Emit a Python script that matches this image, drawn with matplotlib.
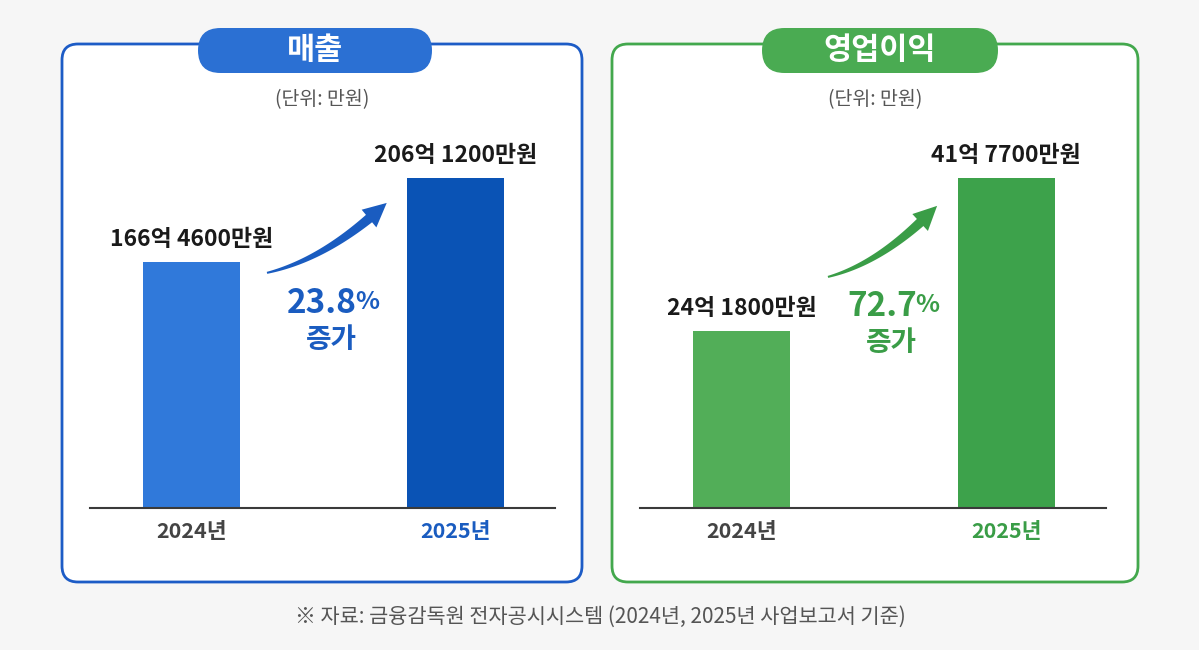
import matplotlib
matplotlib.use("Agg")
import matplotlib.pyplot as plt
import numpy as np
from matplotlib.patches import FancyBboxPatch, Polygon

plt.rcParams['font.family'] = ['Noto Sans CJK KR', 'DejaVu Sans']

# data (억원)
years = ['2024년', '2025년']
sales = [166.46, 206.12]
profit = [24.18, 41.77]
sales_labels = ['166억 4600만원', '206억 1200만원']
profit_labels = ['24억 1800만원', '41억 7700만원']
sales_growth = '23.8'
profit_growth = '72.7'
titles = ['매출', '영업이익']
unit_text = '(단위: 만원)'
source_text = '※ 자료: 금융감독원 전자공시시스템 (2024년, 2025년 사업보고서 기준)'

W, H = 1199, 650
fig = plt.figure(figsize=(W / 100, H / 100), dpi=100)
fig.patch.set_facecolor('#f6f6f6')

def inch(x, y):
    # pixel (from top-left) -> inches for dpi_scale_trans
    return x / 100, (H - y) / 100

def panel(x0, x1, y0, y1, edge, pill, title, pill_x0, pill_x1):
    bx, by = inch(x0, y1)
    box = FancyBboxPatch((bx, by), (x1 - x0) / 100, (y1 - y0) / 100,
                         boxstyle='round,pad=0,rounding_size=0.16',
                         transform=fig.dpi_scale_trans, facecolor='white',
                         edgecolor=edge, linewidth=2, zorder=-2)
    fig.patches.append(box)
    px, py = inch(pill_x0, 73)
    pb = FancyBboxPatch((px, py), (pill_x1 - pill_x0) / 100, 0.45,
                        boxstyle='round,pad=0,rounding_size=0.225',
                        transform=fig.dpi_scale_trans, facecolor=pill,
                        edgecolor='none', zorder=-1)
    fig.patches.append(pb)
    cx = (pill_x0 + pill_x1) / 2
    fig.text(cx / W, 1 - 50 / H, title, ha='center', va='center',
             color='white', fontsize=22, fontweight='bold', zorder=2)
    fig.text((x0 + x1) / 2 / W, 1 - 100 / H, unit_text, ha='center',
             va='center', color='#555555', fontsize=14)

def arrow(ax, start, end, color):
    # tapered curved arrow; x in data, y in axes fraction
    tr = ax.get_xaxis_transform()
    p0 = tr.transform(start)
    p2 = tr.transform(end)
    d = p2 - p0
    p1 = p0 + np.array([0.5 * d[0], 0.2 * d[1]])
    t = np.linspace(0, 1, 400)
    pts = ((1 - t) ** 2)[:, None] * p0 + (2 * t * (1 - t))[:, None] * p1 + (t ** 2)[:, None] * p2
    seg = np.hypot(*np.diff(pts, axis=0).T)
    s = np.concatenate([[0], np.cumsum(seg)])
    head_len = 24
    k = np.searchsorted(s, s[-1] - head_len)
    body = pts[:k + 1]
    tang = np.gradient(body, axis=0)
    tang /= np.hypot(tang[:, 0], tang[:, 1])[:, None]
    norm = np.stack([-tang[:, 1], tang[:, 0]], axis=1)
    w = np.linspace(1.0, 4.8, len(body))[:, None]
    left = body + norm * w
    right = body - norm * w
    base = body[-1]
    n_end = norm[-1]
    head = [base + n_end * 11.5, p2, base - n_end * 11.5]
    poly = np.vstack([left, head, right[::-1]]) / 100
    fig.patches.append(Polygon(poly, closed=True, transform=fig.dpi_scale_trans,
                               facecolor=color, edgecolor='none', zorder=5))

def bars(rect, values, labels, ylim, colors, accent, growth, gx, gy, a_start, a_end):
    ax = fig.add_axes(rect, zorder=2)
    ax.set_facecolor('none')
    ax.bar([0, 1], values, width=0.367, color=colors, zorder=2)
    ax.set_xlim(-0.385, 1.378)
    ax.set_ylim(*ylim)
    for sp in ['top', 'right', 'left']:
        ax.spines[sp].set_visible(False)
    ax.spines['bottom'].set_color('#3a3a3a')
    ax.spines['bottom'].set_linewidth(1.5)
    ax.set_yticks([])
    ax.set_xticks([0, 1])
    ax.set_xticklabels(years, fontsize=15.5, fontweight='bold')
    ax.tick_params(axis='x', length=0, pad=9)
    tl = ax.get_xticklabels()
    tl[0].set_color('#444444')
    tl[1].set_color(accent)
    for i, (v, lab) in enumerate(zip(values, labels)):
        ax.annotate(lab, xy=(i, v), xytext=(0, 8), textcoords='offset points',
                    ha='center', va='bottom', fontsize=16.5, fontweight='bold',
                    color='#1a1a1a')
    num = ax.text(gx, gy, growth, transform=ax.transAxes, ha='right',
                  va='baseline', fontsize=24, fontweight='bold', color=accent)
    ax.annotate('%', xy=(1, 0), xycoords=num, xytext=(-1, 4),
                textcoords='offset points', ha='left', va='bottom',
                fontsize=18, fontweight='bold', color=accent)
    ax.text(gx - 0.054, gy - 0.074, '증가', transform=ax.transAxes, ha='center',
            va='center', fontsize=20, fontweight='bold', color=accent)
    arrow(ax, a_start, a_end, accent)
    return ax

panel(62, 582, 44, 582, '#1d5cc6', '#2b70d3', titles[0], 198, 432)
panel(612, 1138, 44, 582, '#43a84d', '#4aab52', titles[1], 762, 998)

ax_h = 368 / H
ax_b = (H - 508) / H
bars([90 / W, ax_b, 465 / W, ax_h], sales, sales_labels, (50.3, 224.0),
     ['#3079da', '#0a53b5'], '#1a5cc0', sales_growth, 0.574, 0.53,
     (0.286, 0.639), (0.74, 0.829))
bars([640 / W, ax_b, 466 / W, ax_h], profit, profit_labels, (3.83, 46.13),
     ['#52ae58', '#3da24b'], '#3a9d47', profit_growth, 0.594, 0.523,
     (0.326, 0.628), (0.739, 0.821))

fig.text(600 / W, 1 - 617 / H, source_text, ha='center', va='center',
         color='#555555', fontsize=15)

fig.savefig('out.png', dpi=100, facecolor=fig.get_facecolor())
